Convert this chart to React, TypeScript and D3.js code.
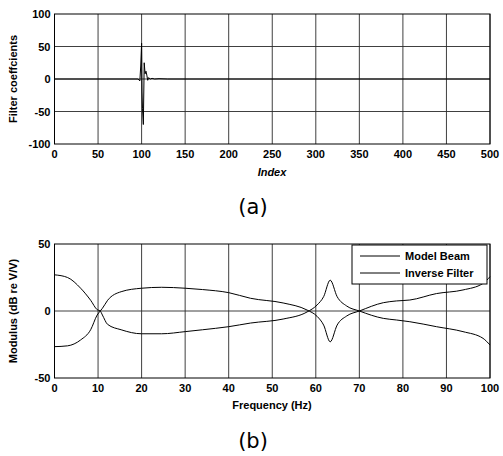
import React from 'react';
import * as d3 from 'd3';

// (a) filter coefficients, sparse [index, value] pairs
const coefIndex = [0, 96, 98, 99, 100, 100.5, 101, 102, 103, 104, 105, 106, 107, 108, 110, 112, 115, 120, 130, 500];
const coefValue = [0, 0, -3, 20, 55, -20, -45, -70, 25, 8, 12, 6, -2, 2, 0, 1, 0, 0.5, 0, 0];
const indexTicks = [0, 50, 100, 150, 200, 250, 300, 350, 400, 450, 500];
const coefTicks = [100, 50, 0, -50, -100];

// (b) frequency responses
const freq = [0, 3, 6, 8.3, 9.8, 10.5, 11, 12.2, 15.3, 20, 24.6, 30, 34, 40, 45, 52.5, 58, 60.3, 61.8, 63.3, 64.9, 67.1, 70, 75.5, 78.5, 81.6, 87.7, 93.8, 98.4, 100];
const modelBeam = [27, 25, 17, 8, 1, 0, -3, -10, -14, -17, -17, -15.4, -14, -11.7, -9, -6, -0.7, 4.5, 10.7, 23, 10.7, 3.7, 0, -5.5, -6.7, -8, -11.7, -15.4, -20.4, -25.4];
const inverseFilter = [-26.6, -26, -21.6, -14, -3, 0, 2, 8, 14.4, 17, 17.7, 17, 16, 13.7, 9.5, 6, 0.7, -4, -10.5, -23, -10.5, -3.7, 0, 6.2, 7.5, 8.2, 13, 15.7, 20.6, 25.6];
const freqTicks = [0, 10, 20, 30, 40, 50, 60, 70, 80, 90, 100];
const modTicks = [50, 0, -50];
const modGrid = [0];
const legendLabels = ['Model Beam', 'Inverse Filter'];

const tickFont = { fontFamily: 'Arial, "Liberation Sans", sans-serif', fontWeight: 'bold' as const, fontSize: 11 };
const gridColor = '#2a2a2a';

function Panel(props: {
  top: number; bottom: number; xDomain: [number, number]; yDomain: [number, number];
  xTicks: number[]; yTicks: number[]; yGrid: number[]; xLabel: string; xItalic?: boolean;
  yLabel: string; caption: string; captionY: number; xLabelY: number;
  children: (x: d3.ScaleLinear<number, number>, y: d3.ScaleLinear<number, number>) => React.ReactNode;
}) {
  const left = 54.5, right = 490;
  const x = d3.scaleLinear().domain(props.xDomain).range([left, right]);
  const y = d3.scaleLinear().domain(props.yDomain).range([props.bottom, props.top]);
  return (
    <g>
      {props.xTicks.map(t => (
        <line key={'vx' + t} x1={x(t)} x2={x(t)} y1={props.top} y2={props.bottom} stroke={gridColor} strokeWidth={0.9} />
      ))}
      {props.yGrid.map(t => (
        <line key={'hy' + t} x1={left} x2={right} y1={y(t)} y2={y(t)} stroke={gridColor} strokeWidth={0.9} />
      ))}
      <rect x={left} y={props.top} width={right - left} height={props.bottom - props.top} fill="none" stroke="#000" strokeWidth={1} />
      {props.children(x, y)}
      {props.xTicks.map(t => (
        <text key={'tx' + t} x={x(t)} y={props.bottom + 14} textAnchor="middle" {...tickFont}>{t}</text>
      ))}
      {props.yTicks.map(t => (
        <text key={'ty' + t} x={left - 4} y={y(t) + 4} textAnchor="end" {...tickFont}>{t}</text>
      ))}
      <text x={272} y={props.xLabelY} textAnchor="middle" {...tickFont} fontSize={11}
        fontStyle={props.xItalic ? 'italic' : 'normal'}>{props.xLabel}</text>
      <text transform={`translate(17,${(props.top + props.bottom) / 2}) rotate(-90)`} textAnchor="middle" {...tickFont} fontSize={11}>
        {props.yLabel}
      </text>
      <text x={253} y={props.captionY} textAnchor="middle" fontFamily='"DejaVu Sans", sans-serif' fontSize={21}>{props.caption}</text>
    </g>
  );
}

export default function App() {
  const coefLine = (x: any, y: any) => d3.line<number>().x((_, i) => x(coefIndex[i])).y(d => y(d))(coefValue) || '';
  const respLine = (x: any, y: any, vals: number[]) =>
    d3.line<number>().x((_, i) => x(freq[i])).y(d => y(d)).curve(d3.curveMonotoneX)(vals) || '';
  return (
    <svg width={503} height={456} style={{ position: 'absolute', left: 0, top: 0, background: '#fff' }}>
      <Panel top={14} bottom={144} xDomain={[0, 500]} yDomain={[-100, 100]} xTicks={indexTicks} yTicks={coefTicks}
        yGrid={[50, 0, -50]} xLabel="Index" xItalic yLabel="Filter coeffcients" caption="(a)" captionY={214} xLabelY={176}>
        {(x, y) => <path d={coefLine(x, y)} fill="none" stroke="#000" strokeWidth={1} />}
      </Panel>
      <Panel top={244} bottom={378} xDomain={[0, 100]} yDomain={[-50, 50]} xTicks={freqTicks} yTicks={modTicks}
        yGrid={modGrid} xLabel="Frequency (Hz)" yLabel="Modulus (dB re V/V)" caption="(b)" captionY={448} xLabelY={409}>
        {(x, y) => (
          <g>
            <path d={respLine(x, y, modelBeam)} fill="none" stroke="#000" strokeWidth={1} />
            <path d={respLine(x, y, inverseFilter)} fill="none" stroke="#000" strokeWidth={1} />
            <rect x={352} y={245} width={135} height={39} fill="#fff" stroke="#000" strokeWidth={1} />
            {legendLabels.map((l, i) => (
              <g key={l}>
                <line x1={360} x2={400} y1={256 + i * 17} y2={256 + i * 17} stroke="#000" strokeWidth={1} />
                <text x={405} y={260 + i * 17} {...tickFont} fontSize={11}>{l}</text>
              </g>
            ))}
          </g>
        )}
      </Panel>
    </svg>
  );
}
